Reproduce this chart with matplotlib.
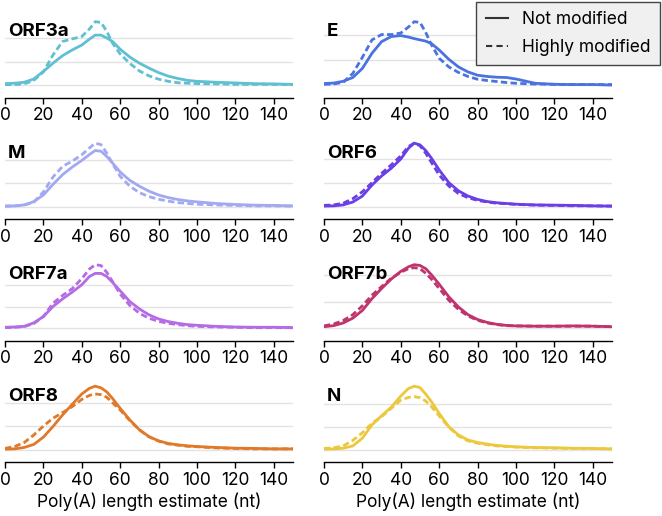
import matplotlib.pyplot as plt

# Poly(A) length KDE curves (density x 1e-3)
length_nt = [0, 5, 10, 15, 20, 25, 30, 35, 40, 44, 47, 50, 53, 56, 60, 65, 70, 75,
             80, 85, 90, 95, 100, 110, 120, 130, 140, 150]

genes = ['ORF3a', 'E', 'M', 'ORF6', 'ORF7a', 'ORF7b', 'ORF8', 'N']
colors = ['#5ec0d1', '#4b72e0', '#a3a8f3', '#6b3fe6', '#b56ae6', '#c0336d', '#e07a2a', '#ecc83c']

orf3a_not = [0.7, 0.9, 1.3, 2.7, 5.9, 9.4, 12.6, 15.0, 17.1, 19.6, 21.3, 21.3, 20.1, 18.6,
             15.3, 12.0, 9.4, 7.3, 5.4, 3.9, 2.9, 2.1, 1.7, 1.3, 1.0, 0.7, 0.6, 0.4]
orf3a_high = [0.3, 0.3, 0.6, 2.1, 5.7, 12.9, 18.6, 19.7, 20.7, 23.9, 27.0, 26.7, 22.9, 17.9,
              13.3, 9.3, 6.1, 4.0, 2.6, 1.7, 1.1, 0.9, 0.7, 0.6, 0.4, 0.4, 0.4, 0.3]

e_not = [0.7, 0.9, 1.6, 3.1, 6.7, 12.7, 17.3, 19.3, 19.7, 19.1, 18.5, 18.0, 17.5, 16.5,
         14.0, 10.3, 7.3, 5.3, 4.0, 3.5, 3.2, 3.1, 2.5, 0.8, 0.4, 0.3, 0.3, 0.1]
e_high = [0.4, 0.5, 1.2, 4.7, 11.1, 18.0, 20.1, 20.1, 20.7, 23.1, 25.2, 24.9, 20.9, 16.0,
          10.7, 7.3, 5.1, 3.5, 2.4, 1.9, 1.5, 1.1, 0.8, 0.5, 0.4, 0.3, 0.3, 0.3]

m_not = [0.3, 0.4, 0.8, 2.2, 5.0, 9.5, 13.6, 16.8, 19.6, 22.1, 23.8, 23.5, 21.3, 18.5,
         14.7, 11.2, 8.7, 6.6, 5.0, 3.9, 3.1, 2.5, 2.1, 1.4, 1.0, 0.7, 0.6, 0.4]
m_high = [0.3, 0.4, 0.7, 2.0, 6.3, 12.6, 17.1, 19.3, 22.0, 24.9, 26.9, 26.3, 22.7, 18.2,
          12.9, 8.7, 6.0, 4.3, 3.2, 2.4, 1.8, 1.4, 1.1, 0.8, 0.6, 0.4, 0.4, 0.3]

orf6_not = [0.3, 0.4, 0.8, 2.0, 4.5, 9.1, 12.9, 16.1, 20.0, 24.5, 26.6, 25.9, 23.5, 20.3,
            15.4, 10.1, 6.7, 4.5, 3.1, 2.2, 1.7, 1.4, 1.1, 0.8, 0.7, 0.6, 0.4, 0.3]
orf6_high = [0.6, 0.8, 1.5, 3.4, 6.3, 10.1, 14.0, 17.5, 21.3, 25.2, 26.6, 25.5, 22.4, 18.5,
             13.3, 8.7, 5.6, 3.8, 2.7, 2.0, 1.5, 1.3, 1.0, 0.7, 0.6, 0.4, 0.4, 0.3]

orf7a_not = [0.5, 0.6, 0.9, 2.5, 5.4, 10.0, 13.5, 16.6, 20.0, 23.8, 25.2, 25.2, 23.8, 21.1,
             17.2, 12.3, 8.9, 6.2, 4.3, 3.1, 2.3, 1.7, 1.4, 0.9, 0.6, 0.5, 0.5, 0.3]
orf7a_high = [0.3, 0.5, 0.8, 2.2, 5.4, 11.5, 15.1, 18.2, 22.8, 27.2, 29.2, 28.8, 25.7, 21.5,
              15.7, 10.5, 6.9, 4.6, 3.2, 2.3, 1.7, 1.2, 0.9, 0.6, 0.5, 0.3, 0.3, 0.3]

orf7b_not = [0.6, 1.0, 2.0, 3.8, 6.7, 11.1, 14.9, 18.4, 21.3, 23.0, 23.8, 23.5, 22.3, 20.0,
             16.5, 11.8, 8.0, 5.1, 3.3, 2.2, 1.5, 1.1, 0.9, 0.8, 0.8, 0.9, 0.8, 0.6]
orf7b_high = [0.9, 1.6, 2.9, 5.1, 8.4, 12.4, 15.6, 18.7, 21.0, 22.3, 22.7, 22.3, 20.6, 18.4,
              14.9, 10.5, 7.1, 4.6, 3.0, 2.0, 1.4, 1.0, 0.9, 0.8, 0.8, 0.8, 0.8, 0.6]

orf8_not = [0.3, 0.4, 1.0, 2.3, 5.4, 9.9, 14.8, 19.3, 23.7, 26.1, 27.0, 26.3, 24.6, 21.8,
            17.6, 12.7, 8.5, 5.6, 3.8, 2.7, 2.1, 1.7, 1.4, 1.0, 0.7, 0.6, 0.4, 0.4]
orf8_high = [0.6, 1.4, 3.1, 6.3, 10.1, 13.4, 15.8, 18.3, 21.4, 23.1, 23.7, 23.4, 22.3, 20.0,
             16.9, 12.4, 8.5, 5.5, 3.7, 2.5, 2.0, 1.5, 1.3, 0.8, 0.6, 0.4, 0.4, 0.4]

n_not = [0.3, 0.4, 0.7, 1.7, 5.1, 10.9, 14.9, 18.6, 23.5, 26.8, 27.8, 27.2, 24.3, 21.0,
         15.9, 10.1, 6.5, 4.3, 3.2, 2.5, 1.9, 1.6, 1.3, 1.0, 0.9, 0.7, 0.6, 0.4]
n_high = [0.6, 0.9, 1.7, 4.1, 7.5, 11.6, 14.5, 18.1, 21.7, 22.9, 23.2, 22.8, 21.3, 18.8,
          14.8, 9.9, 6.1, 3.9, 2.9, 2.2, 1.7, 1.4, 1.2, 0.9, 0.7, 0.6, 0.6, 0.4]

not_modified = [orf3a_not, e_not, m_not, orf6_not, orf7a_not, orf7b_not, orf8_not, n_not]
highly_modified = [orf3a_high, e_high, m_high, orf6_high, orf7a_high, orf7b_high, orf8_high, n_high]

plt.rcParams['font.family'] = ['Inter', 'DejaVu Sans']

W, H = 662, 516
fig = plt.figure(figsize=(W / 100, H / 100), dpi=100)

col_left = [5, 324]
ax_w, ax_h = 288, 70
row_bottom = [88.5, 210, 331.5, 453]

for i, gene in enumerate(genes):
    r, c = divmod(i, 2)
    ax = fig.add_axes([col_left[c] / W, (H - row_bottom[r]) / H, ax_w / W, ax_h / H])
    y1 = [v / 1000 for v in not_modified[i]]
    y2 = [v / 1000 for v in highly_modified[i]]
    ax.plot(length_nt, y1, color=colors[i], lw=2.0, solid_capstyle='round')
    ax.plot(length_nt, y2, color=colors[i], lw=2.0, dashes=(2.3, 1.2))
    ymax = max(max(y1), max(y2))
    ax.set_ylim(-0.05 * ymax, 1.05 * ymax)
    ax.set_xlim(0, 150)
    ax.set_xticks(range(0, 141, 20))
    ax.set_yticks([0, 0.01, 0.02])
    ax.yaxis.grid(True, color='#e3e3e3', lw=1)
    ax.set_axisbelow(True)
    for s in ['left', 'right', 'top']:
        ax.spines[s].set_visible(False)
    ax.spines['bottom'].set_position(('outward', 6.5))
    ax.spines['bottom'].set_linewidth(1)
    ax.tick_params(axis='y', left=False, labelleft=False)
    ax.tick_params(axis='x', length=4, width=1, labelsize=12.5, pad=3)
    ax.text(0.01, 0.81, gene, transform=ax.transAxes, fontsize=13.5,
            fontweight='bold', va='center', ha='left')
    if r == 3:
        ax.set_xlabel('Poly(A) length estimate (nt)', fontsize=12.5, labelpad=3)

h1, = plt.plot([], [], color='#333333', lw=1.5)
h2, = plt.plot([], [], color='#333333', lw=1.5, dashes=(3, 2))
leg = fig.legend([h1, h2], ['Not modified', 'Highly modified'], loc='upper right',
                 bbox_to_anchor=(1, 1), borderaxespad=0.1, fontsize=12.5,
                 handlelength=1.3, labelspacing=0.6, borderpad=0.55,
                 fancybox=False, framealpha=1)
leg.get_frame().set_facecolor('#f0f0f0')
leg.get_frame().set_edgecolor('#444444')

fig.savefig('out.png', dpi=100)
